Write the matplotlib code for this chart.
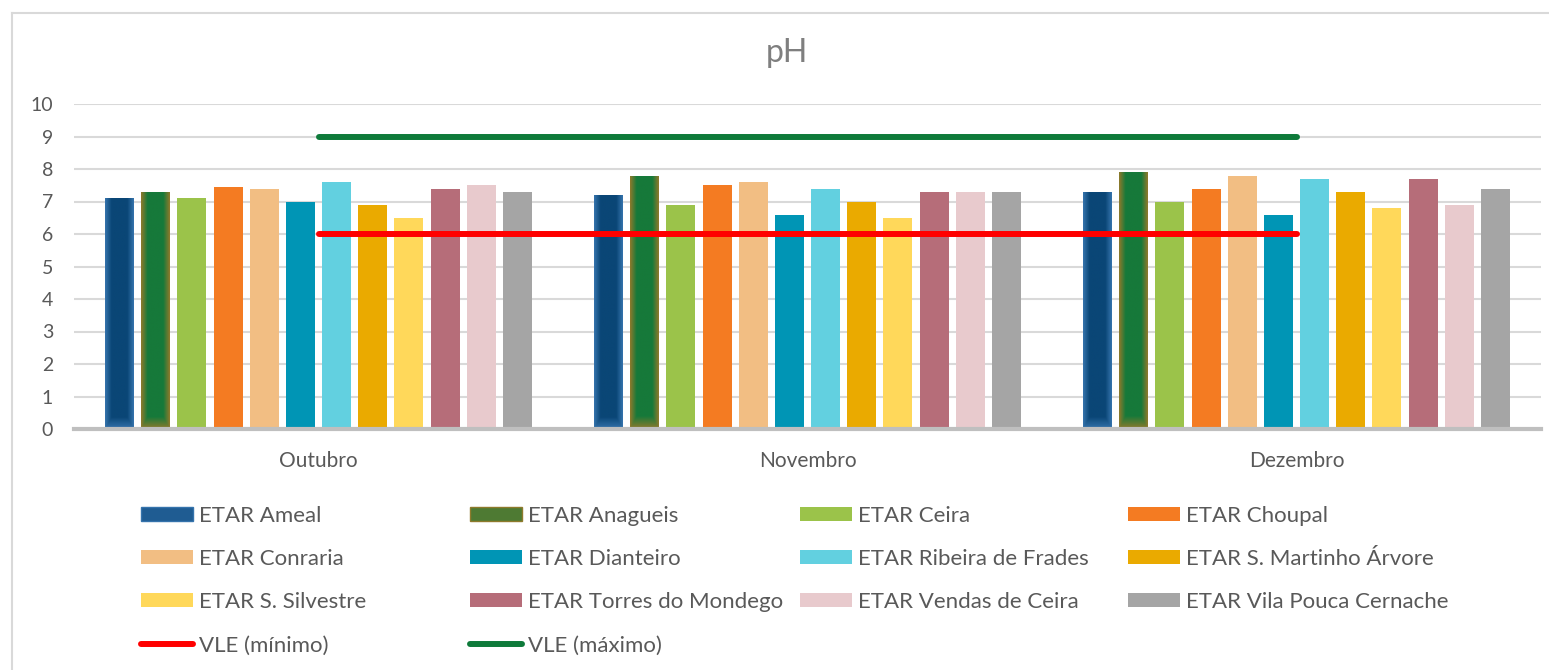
import numpy as np
import matplotlib

matplotlib.use("Agg")
import matplotlib.pyplot as plt  # noqa: E402
from matplotlib.patches import Patch  # noqa: E402
from matplotlib.lines import Line2D  # noqa: E402
from matplotlib.colors import to_rgb  # noqa: E402

plt.rcParams["font.family"] = ["Lato", "DejaVu Sans"]

months = ["Outubro", "Novembro", "Dezembro"]
stations = [
    "ETAR Ameal", "ETAR Anagueis", "ETAR Ceira", "ETAR Choupal",
    "ETAR Conraria", "ETAR Dianteiro", "ETAR Ribeira de Frades",
    "ETAR S. Martinho Árvore", "ETAR S. Silvestre", "ETAR Torres do Mondego",
    "ETAR Vendas de Ceira", "ETAR Vila Pouca Cernache",
]
# pH per station, one value per month (Out, Nov, Dez)
ameal = [7.1, 7.2, 7.3]
anagueis = [7.3, 7.8, 7.9]
ceira = [7.1, 6.9, 7.0]
choupal = [7.45, 7.5, 7.4]
conraria = [7.4, 7.6, 7.8]
dianteiro = [7.0, 6.6, 6.6]
ribeira = [7.6, 7.4, 7.7]
s_martinho = [6.9, 7.0, 7.3]
s_silvestre = [6.5, 6.5, 6.8]
torres = [7.4, 7.3, 7.7]
vendas = [7.5, 7.3, 6.9]
vila_pouca = [7.3, 7.3, 7.4]
vle_min = [6, 6, 6]
vle_max = [9, 9, 9]

values = [ameal, anagueis, ceira, choupal, conraria, dianteiro, ribeira,
          s_martinho, s_silvestre, torres, vendas, vila_pouca]
colors = ["#1F5C92", "#4E7A33", "#9BC34A", "#F47B22", "#F2BE83", "#0095B5",
          "#62D0E0", "#EAAA00", "#FFD85A", "#B66D79", "#E8CACD", "#A5A5A5"]
# gradient fills (centre, edge) for the first two series
gradients = {0: ("#0A4676", "#3573AC"), 1: ("#16793A", "#8E7A2C")}

text_col = "#595959"
fig = plt.figure(figsize=(15.49, 6.70), dpi=100)
ax = fig.add_axes([74 / 1549, 1 - 429 / 670, (1541 - 74) / 1549, 325 / 670])

x = np.arange(len(months))
slot = 0.074
width = 0.0593


def gradient_fill(bar, c_mid, c_edge):
    bx, by = bar.get_x(), bar.get_y()
    bw, bh = bar.get_width(), bar.get_height()
    u = np.linspace(-1, 1, 60)
    v = np.linspace(0, 1, 300)
    tx = np.clip((1 - np.abs(u)) / 0.45, 0, 1)
    ty = np.clip(v / 0.05, 0, 1)
    t = np.minimum(tx[None, :], ty[:, None])
    a, b = np.array(to_rgb(c_mid)), np.array(to_rgb(c_edge))
    img = b + (a - b) * t[..., None]
    im = ax.imshow(img, extent=(bx, bx + bw, by, by + bh), origin="lower",
                   aspect="auto", zorder=3, interpolation="bilinear")
    im.set_clip_path(bar)


handles = []
for i, (vals, col) in enumerate(zip(values, colors)):
    bars = ax.bar(x + (i - 5.5) * slot, vals, width, color=col, zorder=2,
                  linewidth=0)
    if i in gradients:
        for b in bars:
            gradient_fill(b, *gradients[i])
        handles.append(Patch(facecolor=col, edgecolor=gradients[i][1],
                             linewidth=1, label=stations[i]))
    else:
        handles.append(Patch(facecolor=col, label=stations[i]))

ax.plot(x, vle_min, color="#FF0000", lw=4.3, solid_capstyle="round", zorder=4)
ax.plot(x, vle_max, color="#0E7A3A", lw=4.3, solid_capstyle="round", zorder=4)
handles.append(Line2D([], [], color="#FF0000", lw=4.3, solid_capstyle="round",
                      label="VLE (mínimo)"))
handles.append(Line2D([], [], color="#0E7A3A", lw=4.3, solid_capstyle="round",
                      label="VLE (máximo)"))

ax.set_xlim(-0.5, 2.5)
ax.set_ylim(0, 10)
ax.set_yticks(range(0, 11))
ax.set_xticks(x)
ax.set_xticklabels(months)
ax.yaxis.grid(True, color="#D9D9D9", lw=1.5, zorder=0)
ax.set_axisbelow(True)
for s in ["top", "right", "left"]:
    ax.spines[s].set_visible(False)
ax.spines["bottom"].set_color("#BFBFBF")
ax.spines["bottom"].set_linewidth(3)
ax.spines["bottom"].set_zorder(5)
ax.tick_params(axis="y", length=0, pad=15, labelsize=14, labelcolor=text_col)
ax.tick_params(axis="x", length=0, pad=16, labelsize=15, labelcolor=text_col)

fig.text(787 / 1549, 1 - 53 / 670, "pH", ha="center", va="center",
         fontsize=23, color="#7F7F7F")

col_x = [141, 470, 800, 1128]
for k, cx in enumerate(col_x):
    fig.legend(handles=handles[k::4], loc="upper left",
               bbox_to_anchor=(cx / 1549, 1 - 505.5 / 670), frameon=False,
               fontsize=16, labelcolor=text_col, handlelength=2.34,
               handleheight=0.58, handletextpad=0.27, labelspacing=1.05,
               borderpad=0, borderaxespad=0)

# chart-area border (top and left visible)
fig.add_artist(Line2D([12 / 1549, 12 / 1549], [0, 1 - 13 / 670],
                      color="#D9D9D9", lw=1.5))
fig.add_artist(Line2D([12 / 1549, 1], [1 - 13 / 670, 1 - 13 / 670],
                      color="#D9D9D9", lw=1.5))

fig.savefig("out.png", dpi=100)
plt.close(fig)
